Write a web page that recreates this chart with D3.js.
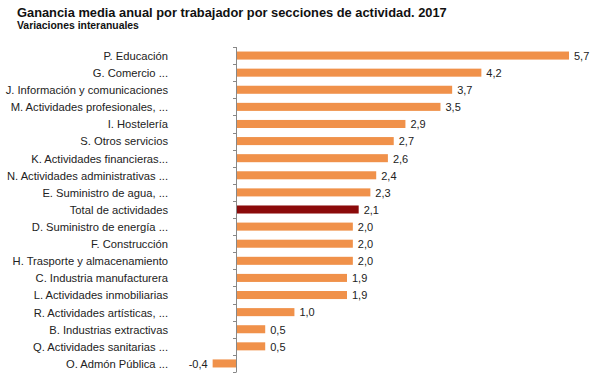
<!DOCTYPE html>
<html><head><meta charset="utf-8">
<script src="https://cdn.jsdelivr.net/npm/d3@7"></script>
<style>body{margin:0;background:#fff}svg{display:block}text{font-family:"Liberation Sans",Arial,sans-serif}</style>
</head><body><svg id="c" width="600" height="378"></svg>
<script>
const categories = ["P. Educación","G. Comercio ...","J. Información y comunicaciones","M. Actividades profesionales, ...","I. Hostelería","S. Otros servicios","K. Actividades financieras...","N. Actividades administrativas ...","E. Suministro de agua, ...","Total de actividades","D. Suministro de energía ...","F. Construcción","H. Trasporte y almacenamiento","C. Industria manufacturera","L. Actividades inmobiliarias","R. Actividades artísticas, ...","B. Industrias extractivas","Q. Actividades sanitarias ...","O. Admón Pública ..."];
const values = [5.7,4.2,3.7,3.5,2.9,2.7,2.6,2.4,2.3,2.1,2.0,2.0,2.0,1.9,1.9,1.0,0.5,0.5,-0.4];
const highlight = "Total de actividades";

const svg = d3.select("#c");
const x0 = 236;
const x = d3.scaleLinear().domain([0, 5.7]).range([x0, 569]);
const y = d3.scaleBand().domain(categories).range([47, 372]).paddingInner(0.53).paddingOuter(0.265);

svg.append("text").attr("x",17).attr("y",17).attr("font-size",12.85).attr("font-weight","bold").attr("fill","#111")
  .text("Ganancia media anual por trabajador por secciones de actividad. 2017");
svg.append("text").attr("x",17).attr("y",28.5).attr("font-size",10.4).attr("font-weight","bold").attr("fill","#111")
  .text("Variaciones interanuales");

const data = categories.map((c,i)=>({c, v: values[i]}));

svg.selectAll("rect.bar").data(data).enter().append("rect")
  .attr("x", d => x(Math.min(0,d.v)))
  .attr("y", d => y(d.c))
  .attr("width", d => Math.abs(x(d.v)-x(0)))
  .attr("height", y.bandwidth())
  .attr("fill", d => d.c===highlight ? "#8B0A0A" : "#F0914A");

// axis
const band = y.step();
const g = svg.append("g");
g.append("line").attr("x1",x0+0.5).attr("x2",x0+0.5).attr("y1",47).attr("y2",372).attr("stroke","#888");
const ticks = d3.range(categories.length+1).map(i => 47 + i*band);
g.selectAll("line.t").data(ticks).enter().append("line")
  .attr("x1",x0-3).attr("x2",x0+0.5).attr("y1",d=>Math.round(d)+0.5).attr("y2",d=>Math.round(d)+0.5).attr("stroke","#888");

// category labels
svg.selectAll("text.cat").data(data).enter().append("text")
  .attr("x",168).attr("y",d=>y(d.c)+y.bandwidth()/2+0.5).attr("dy","0.35em")
  .attr("text-anchor","end").attr("font-size",11.2).attr("fill","#222").text(d=>d.c);

// value labels
const fmt = v => v.toFixed(1).replace(".",",");
svg.selectAll("text.val").data(data).enter().append("text")
  .attr("x",d=> d.v>=0 ? x(d.v)+5 : x(d.v)-5)
  .attr("y",d=>y(d.c)+y.bandwidth()/2+0.5).attr("dy","0.35em")
  .attr("text-anchor",d=>d.v>=0?"start":"end")
  .attr("font-size",11).attr("fill","#222").text(d=>fmt(d.v));
</script></body></html>
